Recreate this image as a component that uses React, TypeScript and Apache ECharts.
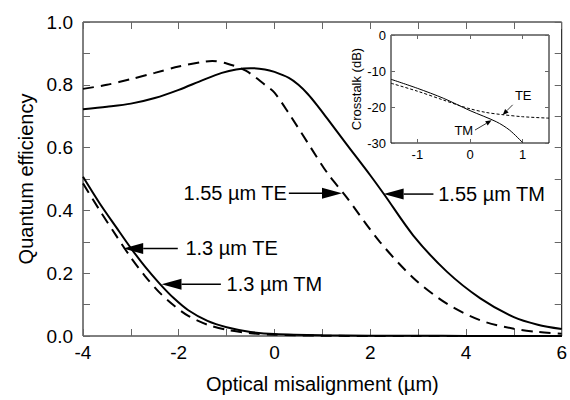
import React, { useEffect, useRef } from 'react';
import * as echarts from 'echarts';

// ---------- main plot data ----------
const te155X = [-4, -3.5, -3, -2.5, -2, -1.5, -1.3, -1, -0.6, -0.2, 0, 0.3, 0.7, 1.1, 1.5, 2.2, 2.9, 3.6, 4.3, 5, 5.5, 6];
const te155Y = [0.787, 0.8, 0.818, 0.838, 0.858, 0.873, 0.876, 0.868, 0.845, 0.8, 0.775, 0.709, 0.614, 0.52, 0.443, 0.3, 0.185, 0.103, 0.05, 0.023, 0.013, 0.007];

const tm155X = [-4, -3.5, -3, -2.5, -2, -1.5, -1.1, -0.8, -0.5, -0.2, 0, 0.3, 0.5, 0.7, 0.9, 1.1, 1.5, 2.0, 2.3, 2.9, 3.6, 4.3, 5, 5.5, 6];
const tm155Y = [0.722, 0.73, 0.74, 0.758, 0.784, 0.815, 0.838, 0.849, 0.853, 0.849, 0.841, 0.822, 0.8, 0.77, 0.733, 0.693, 0.612, 0.512, 0.449, 0.32, 0.205, 0.12, 0.06, 0.036, 0.022];

const tm13X = [-4, -3.65, -3.3, -3.0, -2.7, -2.4, -2.1, -1.8, -1.4, -1.0, -0.5, 0, 1, 2, 3, 4, 5, 6];
const tm13Y = [0.507, 0.422, 0.345, 0.28, 0.22, 0.167, 0.12, 0.082, 0.048, 0.028, 0.013, 0.006, 0.002, 0.001, 0.001, 0, 0, 0];

const te13X = [-4, -3.65, -3.3, -3.0, -2.7, -2.4, -2.1, -1.8, -1.4, -1.0, -0.5, 0, 1, 2, 3, 4, 5, 6];
const te13Y = [0.486, 0.4, 0.318, 0.25, 0.19, 0.138, 0.097, 0.064, 0.036, 0.02, 0.009, 0.004, 0.001, 0, 0, 0, 0, 0];

// ---------- inset data ----------
const insetTmX = [-1.5, -1, -0.5, 0, 0.5, 0.75, 1.0];
const insetTmY = [-12.3, -14.8, -17.6, -21.0, -24.1, -26.4, -29.9];
const insetTeX = [-1.5, -1, -0.5, -0.2, 0, 0.3, 0.6, 1.0, 1.5];
const insetTeY = [-13.4, -15.6, -18.1, -19.6, -20.5, -21.5, -22.1, -22.7, -23.1];

// ---------- tick labels ----------
const mainXTicks = [-4, -2, 0, 2, 4, 6];
const mainYTicks = [0.0, 0.2, 0.4, 0.6, 0.8, 1.0];
const insetXTicks = [-1, 0, 1];
const insetYTicks = [-30, -20, -10, 0];

// ---------- annotations (data coordinates) ----------
const mainNotes = [
  { text: '1.55 µm TE', tip: [1.41, 0.455], tail: [0.3, 0.455], textAt: [0.26, 0.455], align: 'right' },
  { text: '1.55 µm TM', tip: [2.28, 0.452], tail: [3.32, 0.452], textAt: [3.42, 0.452], align: 'left' },
  { text: '1.3 µm TE', tip: [-3.16, 0.279], tail: [-2.02, 0.279], textAt: [-1.86, 0.279], align: 'left' },
  { text: '1.3 µm TM', tip: [-2.36, 0.165], tail: [-1.12, 0.165], textAt: [-1.0, 0.165], align: 'left' },
];
const insetNotes = [
  { text: 'TE', tip: [0.62, -22.2], tail: [0.81, -19.4], textAt: [1.01, -16.7], align: 'center' },
  { text: 'TM', tip: [0.41, -23.7], tail: [0.095, -26.4], textAt: [0.06, -26.4], align: 'right' },
];

const FONT = 'Liberation Sans, Arial, Helvetica, sans-serif';
const zip = (xs: number[], ys: number[]) => xs.map((x, i) => [x, ys[i]]);

export default function App() {
  const ref = useRef<HTMLDivElement>(null);
  useEffect(() => {
    if (!ref.current) return;
    const chart = echarts.init(ref.current, undefined, { renderer: 'svg' });
    const noLine = { show: false, onZero: false };
    const tickStyle = { color: '#666', width: 1 };
    const noSplit = { show: false };

    const option: any = {
      animation: false,
      backgroundColor: '#fff',
      grid: [
        { left: 83, top: 22, width: 481, height: 314, show: true, borderColor: '#000', borderWidth: 1, backgroundColor: 'transparent' },
        { left: 391, top: 35, width: 158, height: 108, show: true, borderColor: '#000', borderWidth: 1, backgroundColor: 'transparent' },
      ],
      xAxis: [
        {
          gridIndex: 0, type: 'value', min: mainXTicks[0], max: mainXTicks[mainXTicks.length - 1], interval: 2, position: 'bottom',
          axisLine: noLine, splitLine: noSplit,
          axisTick: { show: true, inside: true, length: 7, lineStyle: tickStyle },
          minorTick: { show: true, splitNumber: 2, length: 7, lineStyle: tickStyle },
          axisLabel: { fontSize: 19, color: '#000', fontFamily: FONT, margin: 7 },
          name: 'Optical misalignment (µm)', nameLocation: 'middle', nameGap: 38,
          nameTextStyle: { fontSize: 20, color: '#000', fontFamily: FONT },
        },
        {
          gridIndex: 0, type: 'value', min: -4, max: 6, interval: 2, position: 'top',
          axisLine: noLine, splitLine: noSplit,
          axisTick: { show: true, inside: true, length: 7, lineStyle: tickStyle },
          minorTick: { show: true, splitNumber: 2, length: 7, lineStyle: tickStyle },
          axisLabel: { show: false },
        },
        {
          gridIndex: 1, type: 'value', min: -1.5, max: 1.5, position: 'bottom',
          axisLine: noLine, splitLine: noSplit,
          axisTick: { show: true, inside: true, length: 4, lineStyle: tickStyle, customValues: insetXTicks },
          axisLabel: { fontSize: 13, color: '#000', fontFamily: FONT, margin: 5, customValues: insetXTicks },
        },
        {
          gridIndex: 1, type: 'value', min: -1.5, max: 1.5, position: 'top',
          axisLine: noLine, splitLine: noSplit,
          axisTick: { show: true, inside: true, length: 4, lineStyle: tickStyle, customValues: insetXTicks },
          axisLabel: { show: false },
        },
      ],
      yAxis: [
        {
          gridIndex: 0, type: 'value', min: mainYTicks[0], max: mainYTicks[mainYTicks.length - 1], interval: 0.2, position: 'left',
          axisLine: noLine, splitLine: noSplit,
          axisTick: { show: true, inside: true, length: 7, lineStyle: tickStyle },
          minorTick: { show: true, splitNumber: 2, length: 7, lineStyle: tickStyle },
          axisLabel: { fontSize: 19, color: '#000', fontFamily: FONT, margin: 10, formatter: (v: number) => v.toFixed(1) },
          name: 'Quantum efficiency', nameLocation: 'middle', nameGap: 44,
          nameTextStyle: { fontSize: 20, color: '#000', fontFamily: FONT },
        },
        {
          gridIndex: 0, type: 'value', min: 0, max: 1, interval: 0.2, position: 'right',
          axisLine: noLine, splitLine: noSplit,
          axisTick: { show: true, inside: true, length: 7, lineStyle: tickStyle },
          minorTick: { show: true, splitNumber: 2, length: 7, lineStyle: tickStyle },
          axisLabel: { show: false },
        },
        {
          gridIndex: 1, type: 'value', min: insetYTicks[0], max: insetYTicks[insetYTicks.length - 1], interval: 10, position: 'left',
          axisLine: noLine, splitLine: noSplit,
          axisTick: { show: true, inside: true, length: 4, lineStyle: tickStyle },
          axisLabel: { fontSize: 13, color: '#000', fontFamily: FONT, margin: 5 },
          name: 'Crosstalk (dB)', nameLocation: 'middle', nameGap: 27,
          nameTextStyle: { fontSize: 13, color: '#000', fontFamily: FONT },
        },
        {
          gridIndex: 1, type: 'value', min: -30, max: 0, interval: 10, position: 'right',
          axisLine: noLine, splitLine: noSplit,
          axisTick: { show: true, inside: true, length: 4, lineStyle: tickStyle },
          axisLabel: { show: false },
        },
      ],
      series: [
        { type: 'line', xAxisIndex: 0, yAxisIndex: 0, data: zip(tm155X, tm155Y), showSymbol: false, smooth: 0.3, lineStyle: { color: '#000', width: 2 } },
        { type: 'line', xAxisIndex: 0, yAxisIndex: 0, data: zip(te155X, te155Y), showSymbol: false, smooth: 0.3, lineStyle: { color: '#000', width: 2, type: [11, 7] } },
        { type: 'line', xAxisIndex: 0, yAxisIndex: 0, data: zip(tm13X, tm13Y), showSymbol: false, smooth: 0.3, lineStyle: { color: '#000', width: 2 } },
        { type: 'line', xAxisIndex: 0, yAxisIndex: 0, data: zip(te13X, te13Y), showSymbol: false, smooth: 0.3, lineStyle: { color: '#000', width: 2, type: [11, 7] } },
        { type: 'line', xAxisIndex: 2, yAxisIndex: 2, data: zip(insetTmX, insetTmY), showSymbol: false, smooth: 0.3, lineStyle: { color: '#000', width: 1 } },
        { type: 'line', xAxisIndex: 2, yAxisIndex: 2, data: zip(insetTeX, insetTeY), showSymbol: false, smooth: 0.3, lineStyle: { color: '#000', width: 1, type: [3, 2] } },
      ],
    };
    chart.setOption(option);

    const graphics: any[] = [];
    const addNote = (n: any, gridIndex: number, headL: number, headW: number, lw: number, fontSize: number) => {
      const tip = chart.convertToPixel({ gridIndex } as any, n.tip) as number[];
      const tail = chart.convertToPixel({ gridIndex } as any, n.tail) as number[];
      const tp = chart.convertToPixel({ gridIndex } as any, n.textAt) as number[];
      const dx = tip[0] - tail[0];
      const dy = tip[1] - tail[1];
      const len = Math.sqrt(dx * dx + dy * dy) || 1;
      const ux = dx / len, uy = dy / len;
      const bx = tip[0] - ux * headL, by = tip[1] - uy * headL;
      const nx = -uy, ny = ux;
      graphics.push({ type: 'line', z: 10, shape: { x1: tail[0], y1: tail[1], x2: bx, y2: by }, style: { stroke: '#000', lineWidth: lw } });
      graphics.push({ type: 'polygon', z: 10, shape: { points: [[tip[0], tip[1]], [bx + nx * headW, by + ny * headW], [bx - nx * headW, by - ny * headW]] }, style: { fill: '#000' } });
      graphics.push({ type: 'text', z: 10, x: tp[0], y: tp[1], style: { text: n.text, fontSize, fontFamily: FONT, fill: '#000', align: n.align, verticalAlign: 'middle' } });
    };
    mainNotes.forEach((n) => addNote(n, 0, 20, 5.5, 1.5, 20));
    insetNotes.forEach((n) => addNote(n, 1, 6, 2.5, 0.8, 13));
    chart.setOption({ graphic: graphics });

    return () => chart.dispose();
  }, []);
  return <div ref={ref} style={{ position: 'absolute', left: 0, top: 0, width: 570, height: 400 }} />;
}
